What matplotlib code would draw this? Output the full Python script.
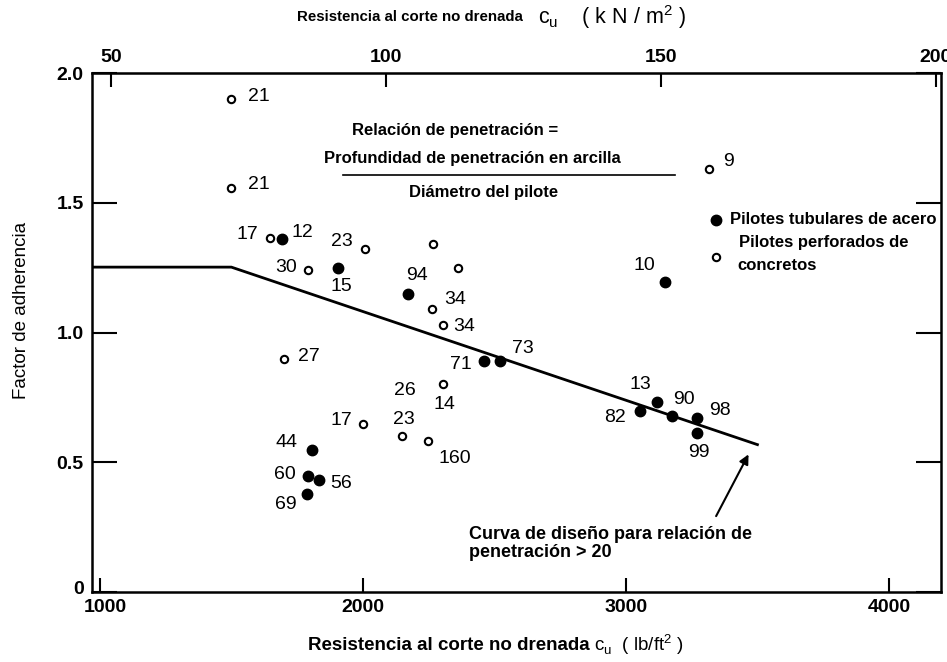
import matplotlib.pyplot as plt
import matplotlib.transforms as mtransforms
import numpy as np

plt.rcParams['font.family'] = ['Liberation Sans', 'DejaVu Sans']

# open circles: pilotes perforados de concreto
open_x = [1497, 1497, 1646, 2008, 2267, 1792, 2360, 2261, 2303, 3317, 1700, 2305, 2001, 2150, 2246]
open_y = [1.90, 1.558, 1.364, 1.323, 1.342, 1.242, 1.249, 1.092, 1.028, 1.631, 0.899, 0.800, 0.649, 0.601, 0.582]
open_lab = ['21', '21', '17', '23', '', '30', '', '34', '34', '9', '27', '14', '17', '23', '160']

# filled circles: pilotes tubulares de acero
fill_x = [1691, 1906, 2172, 3148, 2461, 2521, 1805, 1790, 1834, 1786, 3053, 3117, 3176, 3269, 3269]
fill_y = [1.359, 1.250, 1.147, 1.195, 0.890, 0.889, 0.548, 0.447, 0.430, 0.379, 0.696, 0.732, 0.677, 0.671, 0.613]
fill_lab = ['12', '15', '94', '10', '71', '73', '44', '60', '56', '69', '82', '13', '90', '98', '99']

# design curve
curve_x = [970, 1500, 3500]
curve_y = [1.252, 1.252, 0.568]

# label offsets in pixels (dx, dy)
open_off = [(28, 2), (28, 3), (-22, 4), (-23, 7), (0, 0), (-22, 2), (0, 0), (24, 9), (22, -1),
            (19, 7), (25, 2), (1, -20), (-22, 3), (2, 17), (27, -18)]
fill_off = [(21, 7), (3, -19), (9, 19), (-20, 16), (-23, -3), (23, 13), (-25, 7), (-23, 2), (22, -3),
            (-21, -11), (-25, -6), (-16, 18), (12, 17), (23, 7), (2, -20)]

fig = plt.figure(figsize=(9.47, 6.62), dpi=100)
ax = fig.add_axes([0.0971, 0.1057, 0.8966, 0.784])

ax.plot(curve_x, curve_y, color='black', lw=2.0, zorder=2)
ax.plot(open_x, open_y, 'o', ms=5.3, mfc='white', mec='black', mew=1.5, ls='none', zorder=3)
ax.plot(fill_x, fill_y, 'o', ms=7.5, color='black', ls='none', zorder=3)

for x, y, t, o in zip(open_x, open_y, open_lab, open_off):
    if t:
        ax.annotate(t, (x, y), xytext=o, textcoords='offset pixels', ha='center', va='center', fontsize=14)
ax.annotate('26', (open_x[11], open_y[11]), xytext=(-38, -6), textcoords='offset pixels',
            ha='center', va='center', fontsize=14)
for x, y, t, o in zip(fill_x, fill_y, fill_lab, fill_off):
    ax.annotate(t, (x, y), xytext=o, textcoords='offset pixels', ha='center', va='center', fontsize=14)

# penetration ratio note
ax.text(2350, 1.780, 'Relación de penetración =', ha='center', va='center', fontsize=12, fontweight='bold')
ax.text(2416, 1.672, 'Profundidad de penetración en arcilla', ha='center', va='center', fontsize=12, fontweight='bold')
ax.plot([1924, 3186], [1.608, 1.608], color='black', lw=1.2)
ax.text(2460, 1.541, 'Diámetro del pilote', ha='center', va='center', fontsize=12, fontweight='bold')

# legend by hand
ax.plot([3341], [1.435], 'o', ms=7.5, color='black', clip_on=False)
ax.plot([3341], [1.291], 'o', ms=5.3, mfc='white', mec='black', mew=1.5, clip_on=False)
ax.text(3395, 1.435, 'Pilotes tubulares de acero', ha='left', va='center', fontsize=12, fontweight='bold')
ax.text(3430, 1.345, 'Pilotes perforados de', ha='left', va='center', fontsize=12, fontweight='bold')
ax.text(3422, 1.260, 'concretos', ha='left', va='center', fontsize=12, fontweight='bold')

# design curve note
ax.annotate('', xy=(3471, 0.54), xytext=(3338, 0.283),
            arrowprops=dict(arrowstyle='-|>', color='black', lw=1.5, mutation_scale=14))
ax.text(2405, 0.187, 'Curva de diseño para relación de\npenetración > 20', ha='left', va='center',
        fontsize=13, fontweight='bold', linespacing=1.15)

ax.set_xlim(970, 4198)
ax.set_ylim(0, 2.0)
ax.set_xticks([1000, 2000, 3000, 4000])
ax.set_yticks([0, 0.5, 1.0, 1.5, 2.0])
ax.set_yticklabels(['0', '0.5', '1.0', '1.5', '2.0'])
ax.tick_params(axis='x', direction='in', length=10, width=1.5, labelsize=14, pad=5)
ax.tick_params(axis='y', direction='in', length=18, width=1.5, labelsize=14, right=True, pad=6)
for lbl in ax.get_xticklabels() + ax.get_yticklabels():
    lbl.set_fontweight('bold')
for s in ax.spines.values():
    s.set_linewidth(1.8)

# nudge the "0" and "1000" labels apart like the reference
lbl0 = ax.get_yticklabels()[0]
lbl0.set_transform(lbl0.get_transform() + mtransforms.ScaledTranslation(0, 5 / 100, fig.dpi_scale_trans))
lblx = ax.get_xticklabels()[0]
lblx.set_transform(lblx.get_transform() + mtransforms.ScaledTranslation(5 / 100, 0, fig.dpi_scale_trans))

sec = ax.secondary_xaxis('top', functions=(lambda v: v / 20.885, lambda v: v * 20.885))
sec.set_xticks([50, 100, 150, 200])
sec.tick_params(direction='in', length=10, width=1.5, labelsize=14, pad=5)
for lbl in sec.get_xticklabels():
    lbl.set_fontweight('bold')

fig.text(297 / 947, 1 - 17 / 662, 'Resistencia al corte no drenada', ha='left', va='center',
         fontsize=10.8, fontweight='bold')
fig.text(538 / 947, 1 - 17 / 662, r'c$_\mathregular{u}$    ( k N / m$^\mathregular{2}$ )', ha='left', va='center',
         fontsize=15.5)
fig.text(308 / 947, 1 - 645 / 662, 'Resistencia al corte no drenada', ha='left', va='center',
         fontsize=13.5, fontweight='bold')
fig.text(594 / 947, 1 - 645 / 662, r'c$_\mathregular{u}$  ( lb/ft$^\mathregular{2}$ )', ha='left', va='center',
         fontsize=13.5)
fig.text(21 / 947, 1 - 310 / 662, 'Factor de adherencia', rotation=90, ha='center', va='center',
         fontsize=13.5)

fig.savefig('out.png', dpi=100)
